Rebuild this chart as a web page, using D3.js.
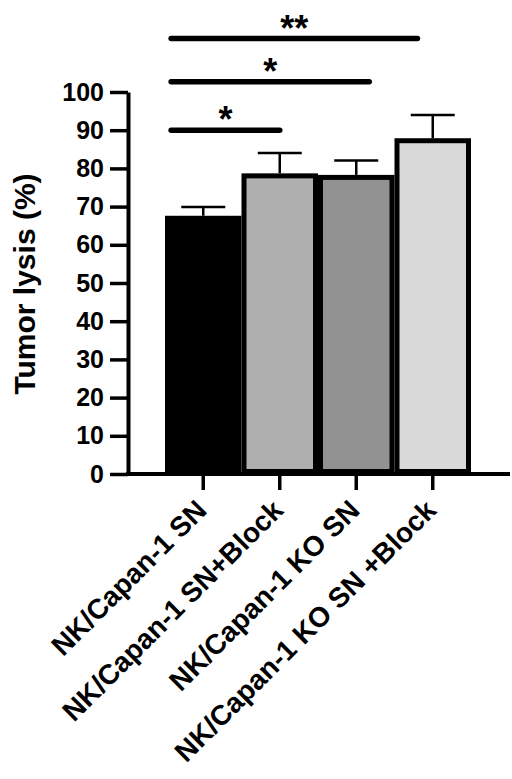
<!DOCTYPE html>
<html>
<head>
<meta charset="utf-8">
<script src="https://d3js.org/d3.v7.min.js"></script>
<style>
  body { margin: 0; background: #fff; }
  text { font-family: "Liberation Sans", Arial, sans-serif; font-weight: bold; fill: #000; }
</style>
</head>
<body>
<svg width="512" height="779"></svg>
<script>
// data
var groups = ["NK/Capan-1 SN", "NK/Capan-1 SN+Block", "NK/Capan-1 KO SN", "NK/Capan-1 KO SN +Block"];
var means = [67.6, 78.7, 78.3, 87.9];
var sems = [2.3, 5.3, 3.8, 6.1];
var fills = ["#000000", "#afafaf", "#929292", "#d9d9d9"];
var yTicks = [0, 10, 20, 30, 40, 50, 60, 70, 80, 90, 100];
// significance bars: start/end in group-index units, height in % units
var sigFrom = [-0.42, -0.42, -0.42];
var sigTo = [1.0, 2.17, 2.8];
var sigLevel = [90, 102.7, 114];
var sigLabel = ["*", "*", "**"];

var svg = d3.select("svg");
var axisX0 = 128, axisX1 = 510;

var x = d3.scaleBand().domain(groups).range([165, 471]).padding(0);
var xi = d3.scaleLinear().domain([0, 1]).range([x(groups[0]) + x.bandwidth()/2, x(groups[1]) + x.bandwidth()/2]);
var y = d3.scaleLinear().domain([0, 100]).range([474, 92]);

var bw = 5;
// bars
svg.append("g").selectAll("rect")
  .data(groups).enter().append("rect")
    .attr("x", function(d) { return x(d) + bw/2; })
    .attr("y", function(d, i) { return y(means[i]) + bw/2; })
    .attr("width", x.bandwidth() - bw)
    .attr("height", function(d, i) { return y(0) - y(means[i]) - bw; })
    .attr("fill", function(d, i) { return fills[i]; })
    .attr("stroke", "#000")
    .attr("stroke-width", bw);

// error bars
var eb = svg.append("g").attr("stroke", "#000").attr("stroke-width", 2.5);
groups.forEach(function(g, i) {
  var cx = x(g) + x.bandwidth()/2;
  eb.append("line").attr("x1", cx).attr("x2", cx).attr("y1", y(means[i])).attr("y2", y(means[i] + sems[i]));
  eb.append("line").attr("x1", cx - 22).attr("x2", cx + 22).attr("y1", y(means[i] + sems[i])).attr("y2", y(means[i] + sems[i]));
});

// y axis
var yAxis = svg.append("g").attr("transform", "translate(" + axisX0 + ",0)")
  .call(d3.axisLeft(y).tickValues(yTicks).tickSize(18).tickSizeOuter(0).tickPadding(6));
yAxis.select(".domain").attr("stroke-width", 4);
yAxis.selectAll(".tick line").attr("stroke-width", 3.5);
yAxis.selectAll(".tick text").style("font-size", "25px").attr("fill", "#000");

// x axis
var xAxis = svg.append("g").attr("transform", "translate(0," + y(0) + ")")
  .call(d3.axisBottom(x).tickSize(16).tickSizeOuter(0));
xAxis.select(".domain").remove();
xAxis.append("line").attr("x1", axisX0 - 2).attr("x2", axisX1).attr("stroke", "#000").attr("stroke-width", 4);
xAxis.selectAll(".tick line").attr("stroke-width", 3.5);
xAxis.selectAll(".tick text")
  .style("font-size", "28px")
  .attr("text-anchor", "end")
  .attr("y", 0).attr("dy", 0)
  .attr("transform", "translate(5,38) rotate(-45)");

// y title
svg.append("text")
  .attr("transform", "translate(35,284) rotate(-90)")
  .attr("text-anchor", "middle")
  .style("font-size", "30px")
  .text("Tumor lysis (%)");

// significance bars
var sig = svg.append("g");
sigLevel.forEach(function(lv, i) {
  sig.append("line")
    .attr("x1", xi(sigFrom[i])).attr("x2", xi(sigTo[i]))
    .attr("y1", y(lv)).attr("y2", y(lv))
    .attr("stroke", "#000").attr("stroke-width", 5.5).attr("stroke-linecap", "round");
  sig.append("text")
    .attr("x", (xi(sigFrom[i]) + xi(sigTo[i])) / 2)
    .attr("y", y(lv) + 2)
    .attr("text-anchor", "middle")
    .style("font-size", "36px")
    .text(sigLabel[i]);
});
</script>
</body>
</html>
